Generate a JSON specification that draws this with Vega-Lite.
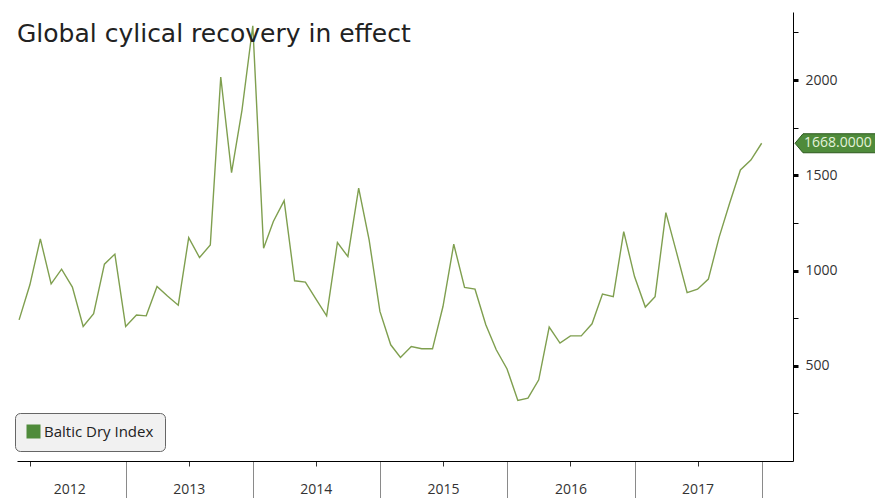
{
  "$schema": "https://vega.github.io/schema/vega-lite/v6.json",
  "width": 776,
  "height": 449,
  "autosize": "none",
  "padding": {"left": 17, "top": 12, "right": 82, "bottom": 37},
  "background": "#ffffff",
  "config": {"view": {"stroke": null}, "font": "Open Sans"},
  "title": {
    "text": "Global cylical recovery in effect",
    "anchor": "start",
    "frame": "group",
    "orient": "top",
    "offset": -55,
    "baseline": "alphabetic",
    "font": "DejaVu Sans",
    "fontSize": 25,
    "fontWeight": "normal",
    "color": "#222222"
  },
  "data": {
    "values": [
      {"date": "2012-03-01", "value": 741},
      {"date": "2012-04-01", "value": 925},
      {"date": "2012-05-01", "value": 1166},
      {"date": "2012-06-01", "value": 930},
      {"date": "2012-07-01", "value": 1007},
      {"date": "2012-08-01", "value": 913},
      {"date": "2012-09-01", "value": 706},
      {"date": "2012-10-01", "value": 773},
      {"date": "2012-11-01", "value": 1033},
      {"date": "2012-12-01", "value": 1086},
      {"date": "2013-01-01", "value": 706},
      {"date": "2013-02-01", "value": 766},
      {"date": "2013-03-01", "value": 762},
      {"date": "2013-04-01", "value": 916},
      {"date": "2013-05-01", "value": 866},
      {"date": "2013-06-01", "value": 818},
      {"date": "2013-07-01", "value": 1173},
      {"date": "2013-08-01", "value": 1068},
      {"date": "2013-09-01", "value": 1134},
      {"date": "2013-10-01", "value": 2016},
      {"date": "2013-11-01", "value": 1514},
      {"date": "2013-12-01", "value": 1842},
      {"date": "2014-01-01", "value": 2285},
      {"date": "2014-02-01", "value": 1117},
      {"date": "2014-03-01", "value": 1257},
      {"date": "2014-04-01", "value": 1367},
      {"date": "2014-05-01", "value": 946},
      {"date": "2014-06-01", "value": 939},
      {"date": "2014-07-01", "value": 851},
      {"date": "2014-08-01", "value": 762},
      {"date": "2014-09-01", "value": 1147},
      {"date": "2014-10-01", "value": 1073},
      {"date": "2014-11-01", "value": 1432},
      {"date": "2014-12-01", "value": 1161},
      {"date": "2015-01-01", "value": 785},
      {"date": "2015-02-01", "value": 610},
      {"date": "2015-03-01", "value": 544},
      {"date": "2015-04-01", "value": 601},
      {"date": "2015-05-01", "value": 589},
      {"date": "2015-06-01", "value": 589},
      {"date": "2015-07-01", "value": 811},
      {"date": "2015-08-01", "value": 1138},
      {"date": "2015-09-01", "value": 911},
      {"date": "2015-10-01", "value": 902},
      {"date": "2015-11-01", "value": 715},
      {"date": "2015-12-01", "value": 584},
      {"date": "2016-01-01", "value": 483},
      {"date": "2016-02-01", "value": 318},
      {"date": "2016-03-01", "value": 330},
      {"date": "2016-04-01", "value": 426},
      {"date": "2016-05-01", "value": 703},
      {"date": "2016-06-01", "value": 619},
      {"date": "2016-07-01", "value": 657},
      {"date": "2016-08-01", "value": 657},
      {"date": "2016-09-01", "value": 720},
      {"date": "2016-10-01", "value": 876},
      {"date": "2016-11-01", "value": 863},
      {"date": "2016-12-01", "value": 1204},
      {"date": "2017-01-01", "value": 968},
      {"date": "2017-02-01", "value": 808},
      {"date": "2017-03-01", "value": 863},
      {"date": "2017-04-01", "value": 1304},
      {"date": "2017-05-01", "value": 1099},
      {"date": "2017-06-01", "value": 884},
      {"date": "2017-07-01", "value": 902},
      {"date": "2017-08-01", "value": 955},
      {"date": "2017-09-01", "value": 1175},
      {"date": "2017-10-01", "value": 1353},
      {"date": "2017-11-01", "value": 1528},
      {"date": "2017-12-01", "value": 1580},
      {"date": "2018-01-01", "value": 1668}
    ]
  },
  "layer": [
    {
      "mark": {"type": "line", "strokeWidth": 1.4, "clip": true},
      "encoding": {
        "x": {
          "field": "date",
          "type": "temporal",
          "scale": {
            "type": "utc",
            "domain": [
              {"year": 2012, "month": 2, "date": 24, "utc": true},
              {"year": 2018, "month": 4, "date": 1, "utc": true}
            ],
            "nice": false
          },
          "axis": {
            "title": null,
            "grid": false,
            "values": [
              {"year": 2012, "month": 4, "date": 1, "utc": true},
              {"year": 2012, "month": 7, "date": 1, "utc": true},
              {"year": 2012, "month": 7, "date": 23, "utc": true},
              {"year": 2012, "month": 10, "date": 1, "utc": true},
              {"year": 2013, "month": 1, "date": 1, "utc": true},
              {"year": 2013, "month": 4, "date": 1, "utc": true},
              {"year": 2013, "month": 7, "date": 1, "utc": true},
              {"year": 2013, "month": 10, "date": 1, "utc": true},
              {"year": 2014, "month": 1, "date": 1, "utc": true},
              {"year": 2014, "month": 4, "date": 1, "utc": true},
              {"year": 2014, "month": 7, "date": 1, "utc": true},
              {"year": 2014, "month": 10, "date": 1, "utc": true},
              {"year": 2015, "month": 1, "date": 1, "utc": true},
              {"year": 2015, "month": 4, "date": 1, "utc": true},
              {"year": 2015, "month": 7, "date": 1, "utc": true},
              {"year": 2015, "month": 10, "date": 1, "utc": true},
              {"year": 2016, "month": 1, "date": 1, "utc": true},
              {"year": 2016, "month": 4, "date": 1, "utc": true},
              {"year": 2016, "month": 7, "date": 1, "utc": true},
              {"year": 2016, "month": 10, "date": 1, "utc": true},
              {"year": 2017, "month": 1, "date": 1, "utc": true},
              {"year": 2017, "month": 4, "date": 1, "utc": true},
              {"year": 2017, "month": 7, "date": 1, "utc": true},
              {"year": 2017, "month": 10, "date": 1, "utc": true},
              {"year": 2018, "month": 1, "date": 1, "utc": true},
              {"year": 2018, "month": 4, "date": 1, "utc": true}
            ],
            "domainColor": "#000000",
            "domainWidth": 1,
            "tickSize": {"condition": {"test": "utcmonth(datum.value) == 0", "value": 40}, "value": 5},
            "tickColor": {"condition": {"test": "utcmonth(datum.value) == 0", "value": "#8a8a8a"}, "value": "#333333"},
            "tickOpacity": {"condition": {"test": "utcdate(datum.value) == 23", "value": 0}, "value": 1},
            "tickWidth": 1,
            "labelExpr": "(utcmonth(datum.value) == 6 && ((utcdate(datum.value) == 1 && utcyear(datum.value) > 2012) || utcdate(datum.value) == 23)) ? utcFormat(datum.value, '%Y') : ''",
            "labelOverlap": false,
            "labelFlush": false,
            "labelBound": false,
            "labelFont": "Open Sans",
            "labelFontSize": 14,
            "labelColor": "#333333",
            "labelBaseline": "middle",
            "labelPadding": 23
          }
        },
        "y": {
          "field": "value",
          "type": "quantitative",
          "scale": {"domain": [0, 2357], "nice": false, "zero": false},
          "axis": {
            "orient": "right",
            "title": null,
            "grid": false,
            "values": [250, 500, 750, 1000, 1250, 1500, 1750, 2000, 2250],
            "format": "d",
            "labelExpr": "datum.value % 500 == 0 ? datum.label : ''",
            "domainColor": "#000000",
            "domainWidth": 1,
            "tickColor": "#000000",
            "tickSize": 5,
            "tickWidth": {"condition": {"test": "datum.value % 500 == 0", "value": 3}, "value": 1},
            "labelFont": "Open Sans",
            "labelFontSize": 14,
            "labelColor": "#333333",
            "labelPadding": 7,
            "labelBaseline": "middle"
          }
        },
        "color": {
          "datum": "Baltic Dry Index",
          "type": "nominal",
          "scale": {"range": ["#7f9f4f"]},
          "legend": {
            "title": null,
            "orient": "none",
            "legendX": -2,
            "legendY": 401,
            "symbolType": "square",
            "symbolSize": 196,
            "symbolStrokeWidth": 0,
            "labelFont": "Open Sans",
            "labelFontSize": 15,
            "labelColor": "#222222",
            "labelOffset": 3,
            "padding": 11,
            "fillColor": "#f1f1f1",
            "strokeColor": "#666666",
            "cornerRadius": 5,
            "encode": {
              "symbols": {
                "update": {
                  "fill": {"value": "#4f8b3b"},
                  "stroke": {"value": "#4f8b3b"},
                  "strokeWidth": {"value": 0},
                  "opacity": {"value": 1}
                }
              }
            }
          }
        }
      }
    },
    {
      "transform": [{"filter": "datum.value == 1668"}],
      "mark": {
        "type": "point",
        "shape": "M0.2,0 L1,-0.95 L9,-0.95 L9,0.95 L1,0.95 Z",
        "size": 400,
        "filled": true,
        "fill": "#4f8b3b",
        "stroke": "#2d5a1e",
        "strokeWidth": 1,
        "opacity": 1
      },
      "encoding": {
        "x": {"datum": {"year": 2018, "month": 4, "date": 1, "utc": true}, "type": "temporal"},
        "y": {"field": "value", "type": "quantitative"}
      }
    },
    {
      "transform": [{"filter": "datum.value == 1668"}],
      "mark": {
        "type": "text",
        "align": "left",
        "baseline": "middle",
        "dx": 11,
        "font": "Open Sans",
        "fontSize": 14,
        "color": "#e4f2da"
      },
      "encoding": {
        "x": {"datum": {"year": 2018, "month": 4, "date": 1, "utc": true}, "type": "temporal"},
        "y": {"field": "value", "type": "quantitative"},
        "text": {"field": "value", "type": "quantitative", "format": ".4f"}
      }
    }
  ]
}
